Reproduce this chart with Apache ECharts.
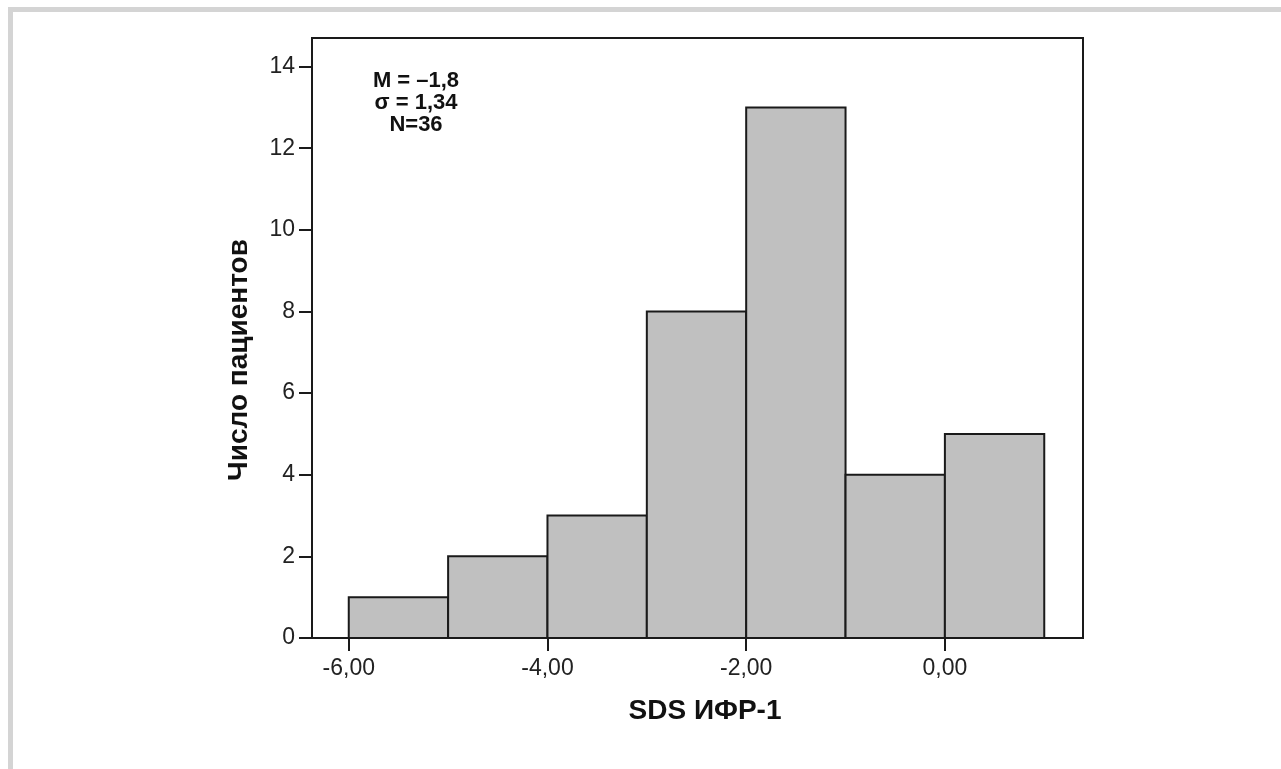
<!DOCTYPE html>
<html>
<head>
<meta charset="utf-8">
<script src="https://cdn.jsdelivr.net/npm/echarts@6/dist/echarts.min.js"></script>
<style>
html,body{margin:0;padding:0;background:#fff;}
#chart{width:1281px;height:769px;}
</style>
</head>
<body>
<div id="chart"></div>
<script>
const binStarts = [-6, -5, -4, -3, -2, -1, 0];
const binEnds = [-5, -4, -3, -2, -1, 0, 1];
const counts = [1, 2, 3, 8, 13, 4, 5];
const xTicks = [-6, -4, -2, 0];
const yTicks = [0, 2, 4, 6, 8, 10, 12, 14];
const xTitle = 'SDS ИФР-1';
const yTitle = 'Число пациентов';
const statsLines = ['M = \u20131,8', '\u03c3 = 1,34', 'N=36'];

const histData = binStarts.map((s, i) => [s, binEnds[i], counts[i]]);
const fmtX = v => v.toFixed(2).replace('.', ',');
const FONT = '"Liberation Sans", Arial, Helvetica, sans-serif';

const chart = echarts.init(document.getElementById('chart'), null, {renderer: 'canvas'});
chart.setOption({
  backgroundColor: '#ffffff',
  animation: false,
  grid: {
    left: 312, top: 38, right: 198, bottom: 131,
    show: true, borderColor: '#1a1a1a', borderWidth: 2, backgroundColor: 'transparent'
  },
  xAxis: {
    type: 'value',
    min: -6.37, max: 1.39,
    splitLine: {show: false},
    axisLine: {show: true, onZero: false, lineStyle: {color: '#1a1a1a', width: 2}},
    axisTick: {show: true, customValues: xTicks, length: 13, lineStyle: {color: '#1a1a1a', width: 2}},
    axisLabel: {customValues: xTicks, formatter: fmtX, margin: 19, fontSize: 23, color: '#222', fontFamily: FONT},
    name: xTitle,
    nameLocation: 'middle',
    nameGap: 59,
    nameTextStyle: {fontSize: 28, fontWeight: 'bold', color: '#111', fontFamily: FONT, padding: [0, 0, 0, 15]}
  },
  yAxis: {
    type: 'value',
    min: 0, max: 14.7,
    splitLine: {show: false},
    axisLine: {show: true, onZero: false, lineStyle: {color: '#1a1a1a', width: 2}},
    axisTick: {show: true, customValues: yTicks, length: 13, lineStyle: {color: '#1a1a1a', width: 2}},
    axisLabel: {customValues: yTicks, margin: 17, fontSize: 23, color: '#222', fontFamily: FONT}
  },
  graphic: [
    {type: 'rect', silent: true, shape: {x: 8, y: 7, width: 1273, height: 5}, style: {fill: '#d4d4d4'}},
    {type: 'rect', silent: true, shape: {x: 8, y: 7, width: 5, height: 762}, style: {fill: '#d4d4d4'}},
    {type: 'text', silent: true, x: 239, y: 360, rotation: Math.PI / 2,
      style: {text: yTitle, fontSize: 28, fontWeight: 'bold', fill: '#111', fontFamily: FONT,
        align: 'center', verticalAlign: 'middle'}},
    {type: 'text', silent: true, x: 416, y: 70,
      style: {text: statsLines.join('\n'), fontSize: 22, lineHeight: 22, fontWeight: 'bold', fill: '#111',
        fontFamily: FONT, align: 'center', verticalAlign: 'top'}}
  ],
  series: [{
    type: 'custom',
    data: histData,
    encode: {x: [0, 1], y: 2},
    clip: true,
    renderItem: function (params, api) {
      const p0 = api.coord([api.value(0), api.value(2)]);
      const p1 = api.coord([api.value(1), 0]);
      return {
        type: 'rect',
        shape: {x: p0[0], y: p0[1], width: p1[0] - p0[0], height: p1[1] - p0[1]},
        style: {fill: '#c0c0c0', stroke: '#1a1a1a', lineWidth: 2}
      };
    }
  }]
});
</script>
</body>
</html>
